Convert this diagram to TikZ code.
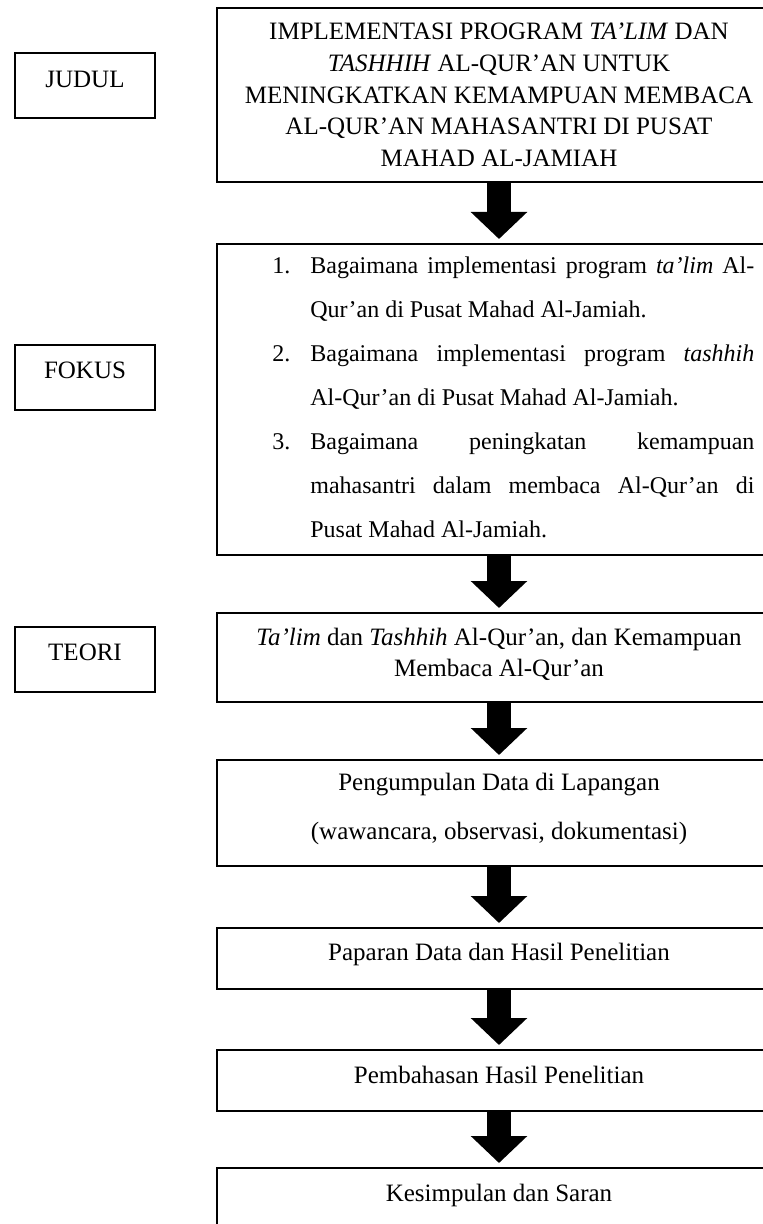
\documentclass[tikz,border=0pt]{standalone}
\usepackage{fontspec}
\setmainfont{Liberation Serif}
\usetikzlibrary{positioning}
\usetikzlibrary{arrows.meta}

\newcommand{\jline}[1]{\makebox[222pt][s]{#1}}
\newcommand{\numb}[1]{\makebox[19pt][l]{#1}}

\begin{document}
\begin{tikzpicture}[
  x=0.5pt, y=-0.5pt,
  font=\fontsize{12.5}{15.9}\selectfont,
  box/.style={draw, line width=1pt, minimum width=282pt, inner sep=0pt},
  labelbox/.style={draw, line width=1pt, minimum width=70pt, minimum height=32.5pt, inner sep=0pt},
  bigarrow/.style={line width=12pt, -{Triangle[length=13.5pt,width=27.5pt]}, shorten >=2pt}
]
\useasboundingbox (0,0) rectangle (763,1224);
\clip (0,0) rectangle (763,1224);

% left labels
\node[labelbox] (JUD) at (85,85.5) {};
\node (JUD_label) at ([yshift=3pt]JUD.center) {JUDUL};
\node[labelbox] (FOK) at (85,377.5) {};
\node (FOK_label) at ([yshift=3.5pt]FOK.center) {FOKUS};
\node[labelbox] (TEO) at (85,659.5) {};
\node (TEO_label) at ([yshift=3.5pt]TEO.center) {TEORI};

% title
\node[box, minimum height=87pt] (TTL) at (499,95) {};
\node[align=center] (TTL_text) at (TTL.center) {IMPLEMENTASI PROGRAM \textit{TA’LIM} DAN\\
  \textit{TASHHIH} AL-QUR’AN UNTUK\\
  MENINGKATKAN KEMAMPUAN MEMBACA\\
  AL-QUR’AN MAHASANTRI DI PUSAT\\
  MAHAD AL-JAMIAH};

% focus questions
\node[box, minimum height=155.5pt] (FOC) at (499,399.5) {};
\node[align=left, anchor=west, inner xsep=0pt, font=\fontsize{12}{22}\selectfont] (FOC_list) at (272,397) {%
  \numb{1.}\jline{Bagaimana implementasi program \textit{ta’lim} Al-}\\
  \hspace*{19pt}Qur’an di Pusat Mahad Al-Jamiah.\\
  \numb{2.}\jline{Bagaimana implementasi program \textit{tashhih}}\\
  \hspace*{19pt}Al-Qur’an di Pusat Mahad Al-Jamiah.\\
  \numb{3.}\jline{Bagaimana peningkatan kemampuan}\\
  \hspace*{19pt}\jline{mahasantri dalam membaca Al-Qur’an di}\\
  \hspace*{19pt}Pusat Mahad Al-Jamiah.};

% theory
\node[box, minimum height=44.5pt] (THE) at (499,657.5) {};
\node[align=center, font=\fontsize{12.5}{15.5}\selectfont] (THE_text) at ([yshift=1.75pt]THE.center)
  {\textit{Ta’lim} dan \textit{Tashhih} Al-Qur’an, dan Kemampuan\\ Membaca Al-Qur’an};

% remaining steps
\node[box, minimum height=53pt] (DATA) at (499,813) {};
\node[align=center, font=\fontsize{12.5}{24.5}\selectfont] (DATA_text) at ([yshift=2pt]DATA.center)
  {Pengumpulan Data di Lapangan\\ (wawancara, observasi, dokumentasi)};
\node[box, minimum height=30.5pt] (PAP) at (499,958.5) {};
\node (PAP_text) at ([yshift=2.25pt]PAP.center) {Paparan Data dan Hasil Penelitian};
\node[box, minimum height=30.5pt] (PEM) at (499,1080.5) {};
\node (PEM_text) at ([yshift=2.75pt]PEM.center) {Pembahasan Hasil Penelitian};
\node[box, minimum height=36pt] (KES) at (499,1204) {};
\node (KES_text) at ([yshift=4.5pt]KES.center) {Kesimpulan dan Saran};

\draw[bigarrow] (TTL) -- (FOC);
\draw[bigarrow] (FOC) -- (THE);
\draw[bigarrow] (THE) -- (DATA);
\draw[bigarrow] (DATA) -- (PAP);
\draw[bigarrow] (PAP) -- (PEM);
\draw[bigarrow] (PEM) -- (KES);

\end{tikzpicture}
\end{document}
